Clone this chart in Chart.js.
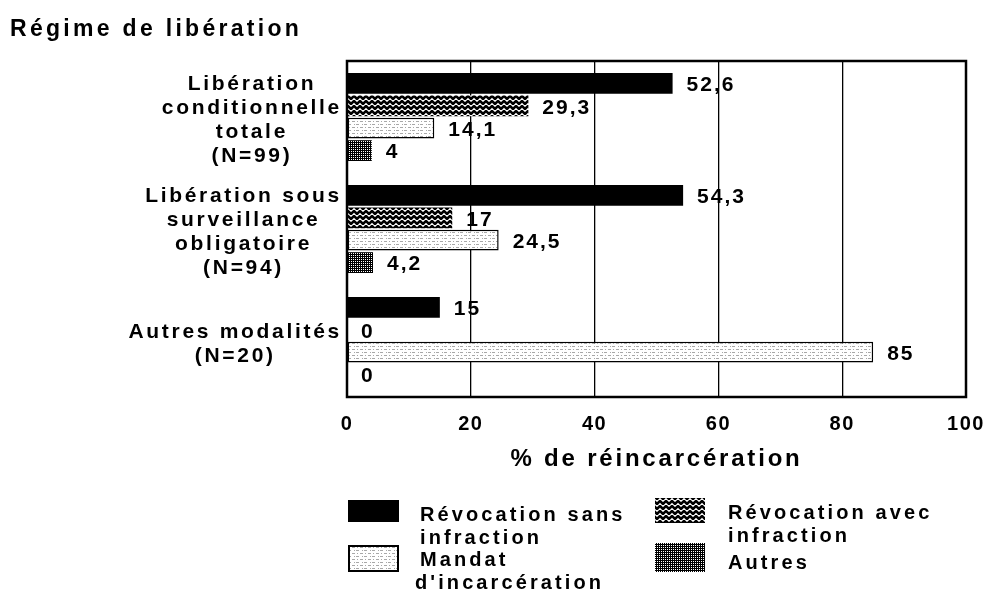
<!DOCTYPE html>
<html lang="fr">
<head>
<meta charset="utf-8">
<title>Régime de libération</title>
<script src="https://cdn.jsdelivr.net/npm/chart.js@4.4.1/dist/chart.umd.min.js"></script>
<style>
  html, body { margin: 0; padding: 0; background: #fff; }
  #wrap { width: 990px; height: 597px; }
</style>
</head>
<body>
<div id="wrap"><canvas id="chart" width="990" height="597"></canvas></div>
<script>
// Data
const categories = [
    ['Libération', 'conditionnelle', 'totale', '(N=99)'],
    ['Libération sous', 'surveillance', 'obligatoire', '(N=94)'],
    ['Autres modalités', '(N=20)']
];
const seriesNames = [
    ['Révocation sans', 'infraction'],
    ['Révocation avec', 'infraction'],
    ['Mandat', "d'incarcération"],
    ['Autres']
];
const revocationSans = [52.6, 54.3, 15];
const revocationAvec = [29.3, 17, 0];
const mandat = [14.1, 24.5, 85];
const autres = [4, 4.2, 0];
const xTicks = [0, 20, 40, 60, 80, 100];
const chartTitle = 'Régime de libération';
const axisTitle = '% de réincarcération';

const FONT = '"Liberation Sans", Arial, sans-serif';

// Small fill patterns to mimic the printed hatching
function makePattern(w, h, draw) {
    const c = document.createElement('canvas');
    c.width = w;
    c.height = h;
    const g = c.getContext('2d');
    g.fillStyle = '#fff';
    g.fillRect(0, 0, w, h);
    draw(g);
    return g.createPattern(c, 'repeat');
}

const zigzag = makePattern(6, 5, g => {
    g.strokeStyle = '#000';
    g.lineWidth = 2.6;
    g.beginPath();
    g.moveTo(-3, 4);
    g.lineTo(0, 1);
    g.lineTo(3, 4);
    g.lineTo(6, 1);
    g.lineTo(9, 4);
    g.stroke();
});

const dotted = makePattern(8, 6, g => {
    g.fillStyle = '#a8a8a8';
    g.fillRect(0, 1, 3, 1);
    g.fillRect(5, 1, 1, 1);
    g.fillRect(2, 4, 1, 1);
    g.fillRect(4, 4, 3, 1);
});

const checker = makePattern(4, 4, g => {
    g.fillStyle = '#000';
    g.fillRect(0, 0, 4, 4);
    g.fillStyle = '#fff';
    g.fillRect(1, 1, 1, 1);
    g.fillRect(3, 3, 1, 1);
    g.fillRect(3, 1, 1, 1);
    g.fillRect(1, 3, 1, 1);
});

const fills = ['#000', zigzag, dotted, checker];
const seriesValues = [revocationSans, revocationAvec, mandat, autres];

function frNumber(v) {
    return String(v).replace('.', ',');
}

function drawText(ctx, text, x, y, font, align, spacing) {
    ctx.save();
    ctx.font = font;
    ctx.letterSpacing = spacing + 'px';
    ctx.fillStyle = '#000';
    ctx.textAlign = align;
    ctx.textBaseline = 'middle';
    ctx.fillText(text, x, y);
    ctx.restore();
}

function textWidth(ctx, text, font, spacing) {
    ctx.save();
    ctx.font = font;
    ctx.letterSpacing = spacing + 'px';
    const w = ctx.measureText(text).width;
    ctx.restore();
    return w;
}

const decorPlugin = {
    id: 'decor',
    beforeDraw(chart) {
        const ctx = chart.ctx;
        ctx.save();
        ctx.fillStyle = '#fff';
        ctx.fillRect(0, 0, chart.width, chart.height);
        ctx.restore();
        // wide spacing for the tick labels drawn by the scale
        ctx.letterSpacing = '1.5px';
    },
    afterDatasetsDraw(chart) {
        const ctx = chart.ctx;
        chart.data.datasets.forEach((ds, di) => {
            const meta = chart.getDatasetMeta(di);
            meta.data.forEach((bar, i) => {
                drawText(ctx, frNumber(ds.data[i]), bar.x + 14, bar.y + 2,
                    'bold 21px ' + FONT, 'left', 2);
            });
        });
    },
    afterDraw(chart) {
        const ctx = chart.ctx;
        const area = chart.chartArea;
        ctx.letterSpacing = '0px';

        // frame around the plot
        ctx.save();
        ctx.strokeStyle = '#000';
        ctx.lineWidth = 2.5;
        ctx.strokeRect(area.left, area.top, area.right - area.left, area.bottom - area.top);
        ctx.restore();

        drawText(ctx, chartTitle, 10, 30, 'bold 23px ' + FONT, 'left', 3.3);
        drawText(ctx, axisTitle, (area.left + area.right) / 2, 459, 'bold 24px ' + FONT, 'center', 2.8);

        // category labels, each block centred on its widest line
        const yScale = chart.scales.y;
        const catFont = 'bold 21px ' + FONT;
        categories.forEach((lines, i) => {
            const widest = Math.max(...lines.map(l => textWidth(ctx, l, catFont, 2.7)));
            const cx = area.left - 5 - widest / 2;
            const lh = 24;
            const cy = yScale.getPixelForValue(i) + 3;
            lines.forEach((line, k) => {
                drawText(ctx, line, cx, cy - (lines.length - 1) * lh / 2 + k * lh, catFont, 'center', 2.7);
            });
        });

        // legend in two columns
        const slots = [
            { x: 348, y: 500, w: 51, h: 22, tx: 420, ty: 515 },
            { x: 655, y: 498, w: 50, h: 25, tx: 728, ty: 513 },
            { x: 348, y: 545, w: 51, h: 27, tx: 420, ty: 560 },
            { x: 655, y: 543, w: 50, h: 29, tx: 728, ty: 563 }
        ];
        chart.data.datasets.forEach((ds, di) => {
            const s = slots[di];
            ctx.save();
            ctx.fillStyle = ds.backgroundColor;
            ctx.fillRect(s.x, s.y, s.w, s.h);
            if (ds.borderWidth) {
                ctx.strokeStyle = '#000';
                ctx.lineWidth = 2;
                ctx.strokeRect(s.x + 1, s.y + 1, s.w - 2, s.h - 2);
            }
            ctx.restore();
            seriesNames[di].forEach((line, k) => {
                const dx = line.startsWith("d'") ? -5 : 0;
                drawText(ctx, line, s.tx + dx, s.ty + k * 23, 'bold 20px ' + FONT, 'left', 3.1);
            });
        });
    }
};

const ctx = document.getElementById('chart');

new Chart(ctx, {
    type: 'bar',
    data: {
        labels: categories.map(c => c.join(' ')),
        datasets: seriesValues.map((vals, i) => ({
            label: seriesNames[i].join(' '),
            data: vals,
            backgroundColor: fills[i],
            borderColor: '#000',
            borderWidth: i === 2 ? 1.5 : 0,
            borderSkipped: false,
            categoryPercentage: 0.8,
            barPercentage: 0.93
        }))
    },
    options: {
        indexAxis: 'y',
        responsive: false,
        animation: false,
        devicePixelRatio: 1,
        layout: {
            padding: { left: 0, right: 24, top: 61, bottom: 160 }
        },
        plugins: {
            legend: { display: false },
            tooltip: { enabled: false }
        },
        scales: {
            x: {
                type: 'linear',
                min: 0,
                max: 100,
                afterBuildTicks: scale => {
                    scale.ticks = xTicks.map(v => ({ value: v }));
                },
                afterFit: scale => {
                    scale.height = 40;
                    scale.paddingLeft = 0;
                    scale.paddingRight = 0;
                },
                ticks: {
                    color: '#000',
                    padding: 15,
                    maxRotation: 0,
                    font: { family: FONT, size: 20, weight: 'bold' }
                },
                grid: {
                    color: '#000',
                    lineWidth: 1.3,
                    drawTicks: false
                },
                border: { display: false }
            },
            y: {
                afterFit: scale => {
                    scale.width = 347;
                },
                ticks: { display: false },
                grid: { display: false },
                border: { display: false }
            }
        }
    },
    plugins: [decorPlugin]
});
</script>
</body>
</html>
